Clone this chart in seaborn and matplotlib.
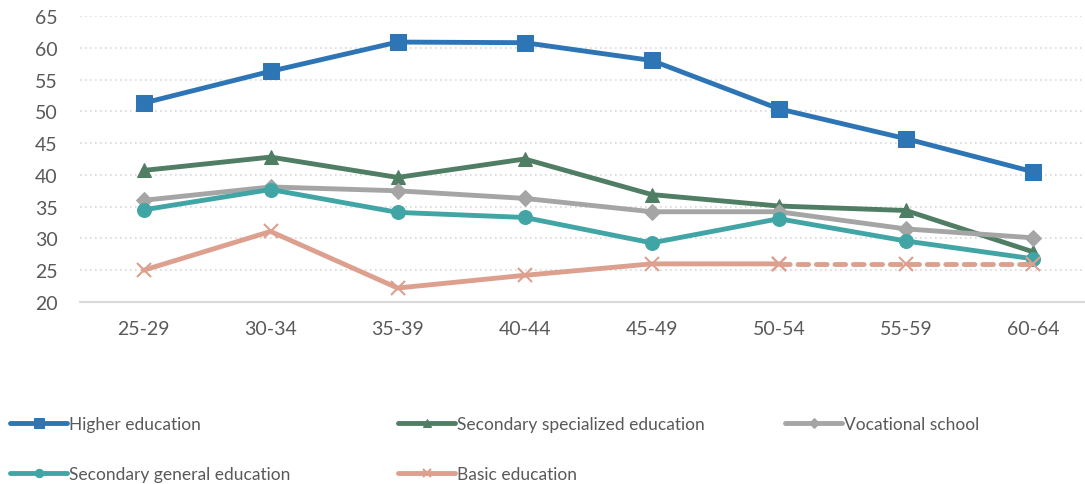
import numpy as np
import pandas as pd
import matplotlib
matplotlib.use("Agg")
import matplotlib.pyplot as plt
import seaborn as sns

# ------------------------------------------
# DATA
# ------------------------------------------
age_groups = ["25-29", "30-34", "35-39", "40-44", "45-49", "50-54", "55-59", "60-64"]

higher = [51.3, 56.3, 60.9, 60.8, 58.0, 50.4, 45.7, 40.5]
sec_specialized = [40.7, 42.8, 39.6, 42.5, 36.9, 35.1, 34.4, 27.9]
vocational = [36.0, 38.1, 37.5, 36.3, 34.2, 34.2, 31.5, 30.1]
sec_general = [34.5, 37.7, 34.1, 33.3, 29.3, 33.1, 29.6, 26.8]
basic = [25.0, 31.1, 22.2, 24.2, 26.0, 26.0, 26.0, 26.0]
basic_dash_from = 5  # basic education dashed from 50-54 onwards

series_names = ["Higher education", "Secondary specialized education", "Vocational school",
                "Secondary general education", "Basic education"]
series_values = [higher, sec_specialized, vocational, sec_general, basic]
colors = ["#2E75B6", "#507E64", "#A5A5A5", "#41A5A6", "#DDA08F"]
markers = ["s", "^", "D", "o", "x"]
msizes = [11, 10, 8, 10, 10]

# ------------------------------------------
# PLOT
# ------------------------------------------
sns.set_theme(style="white")
plt.rcParams["font.family"] = ["Lato", "DejaVu Sans"]

fig = plt.figure(figsize=(10.85, 4.85), dpi=100)
ax = fig.add_axes([80 / 1085, 1 - 303 / 485, 1005 / 1085, 286 / 485])

x = np.arange(len(age_groups))
for name, vals, col, mk, ms in zip(series_names, series_values, colors, markers, msizes):
    df = pd.DataFrame({"x": x, "y": vals})
    if name == "Basic education":
        solid = df.iloc[:basic_dash_from + 1]
        dashed = df.iloc[basic_dash_from:]
        sns.lineplot(data=solid, x="x", y="y", ax=ax, color=col, lw=3.5,
                     marker=mk, markersize=ms, mew=1.5, mec=col, label=name)
        sns.lineplot(data=dashed, x="x", y="y", ax=ax, color=col, lw=3.5,
                     ls=(0, (2.2, 1.6)), marker=mk, markersize=ms, mew=1.5, mec=col,
                     dash_capstyle="round")
    else:
        sns.lineplot(data=df, x="x", y="y", ax=ax, color=col, lw=3.5,
                     marker=mk, markersize=ms, mec=col, label=name)

ax.set_xlim(-0.5, 7.41)
ax.set_ylim(20, 65)
ax.set_yticks(range(20, 66, 5))
ax.set_xticks(x)
ax.set_xticklabels(age_groups)
ax.set_xlabel("")
ax.set_ylabel("")

ax.yaxis.grid(True, color="#D9D9D9", ls=(0, (1, 2)), lw=1.2)
ax.set_axisbelow(True)
for s in ["top", "right", "left"]:
    ax.spines[s].set_visible(False)
ax.spines["bottom"].set_color("#D9D9D9")
ax.spines["bottom"].set_linewidth(1.5)
ax.tick_params(axis="y", length=0, pad=16, labelsize=14, labelcolor="#595959")
ax.tick_params(axis="x", length=0, pad=13, labelsize=14, labelcolor="#595959")

# legend: three single-column legends, rows filled left to right
handles, labels = ax.get_legend_handles_labels()
ax.get_legend().remove()
columns = [[0, 3], [1, 4], [2]]
col_x = [3 / 1085, 391 / 1085, 778 / 1085]
for idx, cx in zip(columns, col_x):
    leg = fig.legend([handles[i] for i in idx], [labels[i] for i in idx],
                     loc="upper left", bbox_to_anchor=(cx, 0.155),
                     frameon=False, fontsize=12.5, handlelength=3.3, handletextpad=0.1,
                     labelspacing=2.0, borderaxespad=0, markerscale=0.6)
    for t in leg.get_texts():
        t.set_color("#595959")

fig.savefig("out.png", dpi=100)
